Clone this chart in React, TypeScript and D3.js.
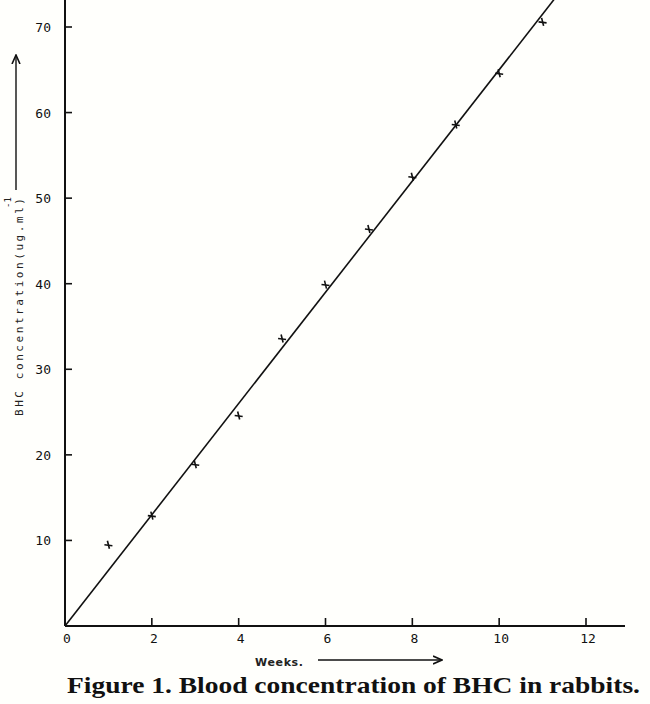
import React from "react";
import * as d3 from "d3";

const weeks = [1, 2, 3, 4, 5, 6, 7, 8, 9, 10, 11];
const concentration = [9.5, 12.9, 18.9, 24.6, 33.6, 39.9, 46.4, 52.5, 58.6, 64.6, 70.6];
const xTicks = [0, 2, 4, 6, 8, 10, 12];
const yTicks = [10, 20, 30, 40, 50, 60, 70];
const fitWeeks = [0, 11.4];
const fitSlope = 6.5;

const W = 650;
const H = 704;

export default function App() {
  const x = d3.scaleLinear().domain([0, 12]).range([65, 586]);
  const y = d3.scaleLinear().domain([0, 70]).range([626, 27]);
  const line = d3
    .line<number>()
    .x((d) => x(d))
    .y((d) => y(d * fitSlope));
  const mono = "'DejaVu Sans Mono', 'Liberation Mono', monospace";
  return (
    <svg
      width={W}
      height={H}
      style={{ position: "absolute", left: 0, top: 0, background: "#fffffc" }}
    >
      <defs>
        <clipPath id="plot">
          <rect x={0} y={0} width={W} height={H} />
        </clipPath>
        <marker id="ah" viewBox="0 0 10 10" refX="9" refY="5" markerWidth="10" markerHeight="10" orient="auto" markerUnits="userSpaceOnUse">
          <path d="M0,1 L9,5 L0,9" fill="none" stroke="#111" strokeWidth={1.6} />
        </marker>
      </defs>
      {/* axes */}
      <line x1={x(0)} y1={0} x2={x(0)} y2={y(0)} stroke="#111" strokeWidth={2} />
      <line x1={x(0)} y1={y(0)} x2={625} y2={y(0)} stroke="#111" strokeWidth={2} />
      {yTicks.map((t) => (
        <g key={"y" + t}>
          <line x1={x(0)} x2={x(0) + 7} y1={y(t)} y2={y(t)} stroke="#111" strokeWidth={1.6} />
          <text x={51} y={y(t) + 5} textAnchor="end" fontFamily={mono} fontSize={13} fill="#111">
            {t}
          </text>
        </g>
      ))}
      {xTicks.map((t) => (
        <g key={"x" + t}>
          {t > 0 && (
            <line x1={x(t)} x2={x(t)} y1={y(0)} y2={y(0) - 8} stroke="#111" strokeWidth={1.6} />
          )}
          <text x={x(t) + 2} y={643} textAnchor="middle" fontFamily={mono} fontSize={13} fill="#111">
            {t}
          </text>
        </g>
      ))}
      {/* fitted line */}
      <path d={line(fitWeeks) || ""} fill="none" stroke="#111" strokeWidth={1.6} clipPath="url(#plot)" />
      {/* markers */}
      {weeks.map((w, i) => {
        const cx = x(w);
        const cy = y(concentration[i]);
        return (
          <g key={"p" + w} stroke="#111" strokeWidth={1.6}>
            <line x1={cx - 4} y1={cy} x2={cx + 4} y2={cy + 1} />
            <line x1={cx - 1} y1={cy - 4} x2={cx + 1} y2={cy + 4} />
          </g>
        );
      })}
      {/* y label */}
      <text
        transform="translate(23,416) rotate(-90)"
        fontFamily={mono}
        fontSize={11}
        textLength={218}
        lengthAdjust="spacing"
        fill="#222"
      >
        BHC concentration(ug.ml)
      </text>
      <text transform="translate(11,208) rotate(-90)" fontFamily={mono} fontSize={9} fill="#222">
        -1
      </text>
      <line x1={16} y1={190} x2={16} y2={55} stroke="#111" strokeWidth={1.4} markerEnd="url(#ah)" />
      {/* x label */}
      <text x={255} y={666} fontFamily="'DejaVu Sans', sans-serif" fontWeight="bold" fontSize={11} fill="#222" textLength={48} lengthAdjust="spacing">
        Weeks.
      </text>
      <line x1={318} y1={660} x2={442} y2={660} stroke="#111" strokeWidth={1.4} markerEnd="url(#ah)" />
      {/* caption */}
      <text
        x={67}
        y={693}
        fontFamily="'Liberation Serif', 'DejaVu Serif', serif"
        fontWeight="bold"
        fontSize={23}
        fill="#111"
        textLength={573}
        lengthAdjust="spacingAndGlyphs"
      >
        Figure 1. Blood concentration of BHC in rabbits.
      </text>
    </svg>
  );
}
